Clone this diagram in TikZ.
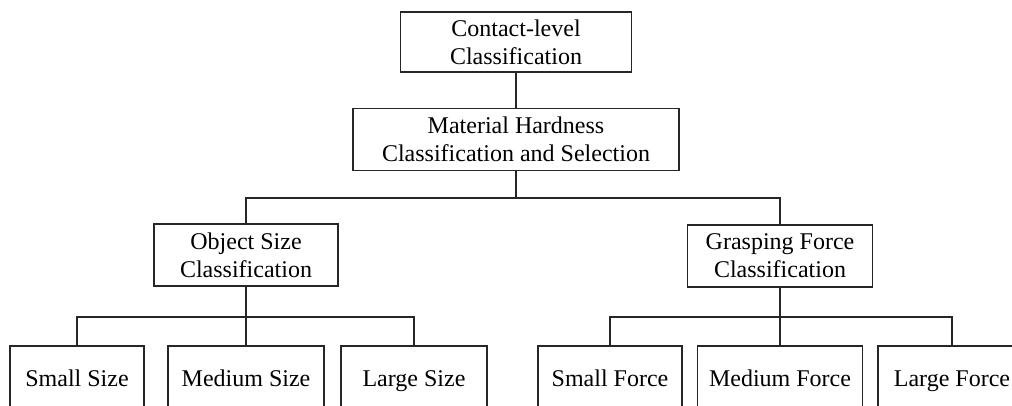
\documentclass[tikz,border=0pt]{standalone}
\usepackage{fontspec}
\setmainfont{Liberation Serif}
\begin{document}
\begin{tikzpicture}[x=1pt,y=-1pt,
  line width=1.8pt, draw=black!85,
  box/.style={draw=black!85, line width=1.8pt, inner sep=0pt, outer sep=0pt, align=center,
    font=\fontsize{24}{28}\selectfont},
  leaf/.style={box, anchor=north, minimum height=68pt, text height=17pt, text depth=5pt},
  conn/.style={draw=black!85, line width=2pt}]
\clip (0,0) rectangle (1012,405);
\fill[white] (0,0) rectangle (1012,405);
% nodes
\node[box, minimum width=231pt, minimum height=60pt] (top) at (516,42) {Contact-level\\Classification};
\node[box, minimum width=326pt, minimum height=62pt] (mat) at (516,139.5) {Material Hardness\\Classification and Selection};
\node[box, minimum width=184pt, minimum height=62pt] (obj) at (246,255) {Object Size\\Classification};
\node[box, minimum width=185pt, minimum height=62pt] (gra) at (780,256) {Grasping Force\\Classification};
\node[leaf, minimum width=134pt] (ss) at (77,346) {Small Size};
\node[leaf, minimum width=156pt] (ms) at (246,346) {Medium Size};
\node[leaf, minimum width=146pt] (ls) at (414,346) {Large Size};
\node[leaf, minimum width=144pt] (sf) at (610,346) {Small Force};
\node[leaf, minimum width=165pt] (mf) at (780,346) {Medium Force};
\node[leaf, minimum width=148pt] (lf) at (952,346) {Large Force};
% connectors
\coordinate (b1) at (516,198);
\coordinate (b2) at (246,317);
\coordinate (b3) at (780,317);
\draw[conn] (top.south) -- (mat.north);
\draw[conn] (mat.south) -- (b1);
\draw[conn] (obj.north) |- (b1) -| (gra.north);
\draw[conn] (obj.south) -- (b2);
\draw[conn] (ss.north) |- (b2) -| (ls.north);
\draw[conn] (ms.north) -- (b2);
\draw[conn] (gra.south) -- (b3);
\draw[conn] (sf.north) |- (b3) -| (lf.north);
\draw[conn] (mf.north) -- (b3);
\end{tikzpicture}
\end{document}
